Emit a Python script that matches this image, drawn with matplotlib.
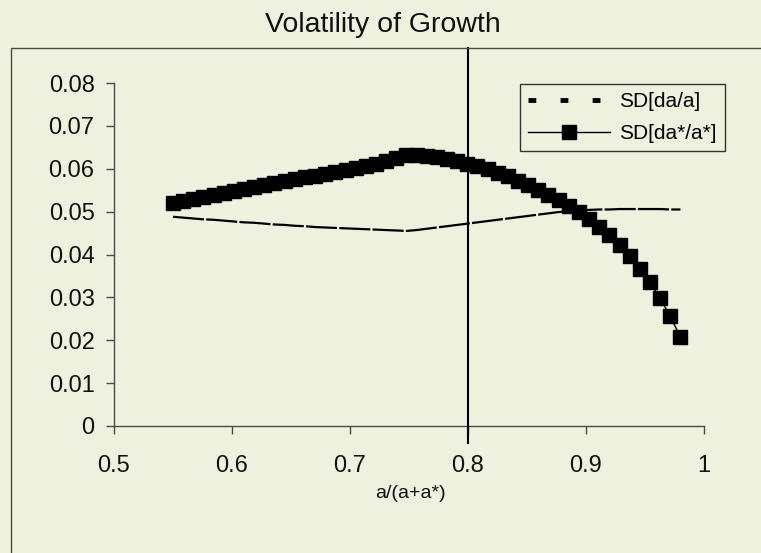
import matplotlib
matplotlib.use("Agg")
import matplotlib.pyplot as plt
from matplotlib.lines import Line2D
from matplotlib.patches import Rectangle
import matplotlib.transforms as mtransforms

plt.rcParams['font.family'] = ['Liberation Sans Narrow', 'Liberation Sans', 'DejaVu Sans']

# ---- data ----
x_share = [0.5500, 0.5586, 0.5672, 0.5758, 0.5844, 0.5930, 0.6016, 0.6102, 0.6188, 0.6274,
           0.6360, 0.6446, 0.6532, 0.6618, 0.6704, 0.6790, 0.6876, 0.6962, 0.7048, 0.7134,
           0.7220, 0.7306, 0.7392, 0.7478, 0.7564, 0.7650, 0.7736, 0.7822, 0.7908, 0.7994,
           0.8080, 0.8166, 0.8252, 0.8338, 0.8424, 0.8510, 0.8596, 0.8682, 0.8768, 0.8854,
           0.8940, 0.9026, 0.9112, 0.9198, 0.9284, 0.9370, 0.9456, 0.9542, 0.9628, 0.9714,
           0.9800]

sd_da_a = [0.0488, 0.0486, 0.0484, 0.0482, 0.0481, 0.0479, 0.0477, 0.0475, 0.0474, 0.0472,
           0.0470, 0.0469, 0.0467, 0.0466, 0.0464, 0.0463, 0.0462, 0.0461, 0.0460, 0.0459,
           0.0458, 0.0457, 0.0456, 0.0455, 0.0457, 0.0460, 0.0463, 0.0466, 0.0469, 0.0472,
           0.0475, 0.0478, 0.0481, 0.0484, 0.0487, 0.0490, 0.0493, 0.0496, 0.0499, 0.0501,
           0.0503, 0.0504, 0.0505, 0.0505, 0.0506, 0.0506, 0.0506, 0.0506, 0.0506, 0.0505,
           0.0505]

sd_dastar = [0.0520, 0.0525, 0.0529, 0.0534, 0.0539, 0.0543, 0.0548, 0.0553, 0.0557, 0.0562,
             0.0567, 0.0572, 0.0576, 0.0580, 0.0584, 0.0588, 0.0592, 0.0596, 0.0601, 0.0606,
             0.0612, 0.0618, 0.0625, 0.0632, 0.0632, 0.0630, 0.0627, 0.0623, 0.0618, 0.0612,
             0.0606, 0.0599, 0.0591, 0.0582, 0.0572, 0.0562, 0.0551, 0.0539, 0.0526, 0.0513,
             0.0499, 0.0483, 0.0464, 0.0445, 0.0422, 0.0396, 0.0366, 0.0336, 0.0298, 0.0256,
             0.0207]

x_ticks = [0.5, 0.6, 0.7, 0.8, 0.9, 1.0]
x_tick_labels = ["0.5", "0.6", "0.7", "0.8", "0.9", "1"]
y_ticks = [0, 0.01, 0.02, 0.03, 0.04, 0.05, 0.06, 0.07, 0.08]
y_tick_labels = ["0", "0.01", "0.02", "0.03", "0.04", "0.05", "0.06", "0.07", "0.08"]
ref_x = 0.8

title = "Volatility of Growth"
x_label = "a/(a+a*)"
series_names = ["SD[da/a]", "SD[da*/a*]"]

# ---- figure ----
W, H = 761, 553
bg = "#eff1df"
fig = plt.figure(figsize=(W / 100, H / 100), dpi=100, facecolor=bg)
ax = fig.add_axes([114 / W, 1 - 426 / H, (704 - 114) / W, (426 - 83) / H])
ax.set_facecolor(bg)

# outer frame (chart border)
fig.add_artist(Rectangle((11 / W, -0.1), 1.2, 1 - 48 / H + 0.1, transform=fig.transFigure,
                         fill=False, edgecolor="#4a4a4a", linewidth=1.0))

ax.plot(x_share, sd_da_a, color="black", linewidth=1.6, linestyle=(0, (14, 1.0)),
        solid_capstyle="butt", dash_capstyle="butt", zorder=3)
ax.plot(x_share, sd_dastar, color="black", linewidth=1.0, marker="s", markersize=9.6,
        markerfacecolor="black", markeredgecolor="black", zorder=4)

ax.set_xlim(0.5, 1.0)
ax.set_ylim(0, 0.08)
ax.set_xticks(x_ticks)
ax.set_xticklabels(x_tick_labels)
ax.set_yticks(y_ticks)
ax.set_yticklabels(y_tick_labels)

for s in ["top", "right"]:
    ax.spines[s].set_visible(False)
for s in ["left", "bottom"]:
    ax.spines[s].set_color("#4a4a4a")
    ax.spines[s].set_linewidth(1.0)
ax.tick_params(axis="both", direction="out", length=6, width=1.0, color="#4a4a4a",
               labelsize=17, labelcolor="#111111")
ax.tick_params(axis="x", pad=15)
ax.tick_params(axis="y", pad=8)

# vertical reference line at x = 0.8
trans = mtransforms.blended_transform_factory(ax.transData, ax.transAxes)
ax.plot([ref_x, ref_x], [-0.05, (426 - 48) / (426 - 83)], transform=trans, color="black",
        linewidth=1.5, clip_on=False, zorder=5)

fig.text(383 / W, 1 - 25 / H, title, ha="center", va="center", fontsize=20.5, color="#111111")
fig.text(410 / W, 1 - 493 / H, x_label, ha="center", va="center", fontsize=14, color="#111111")

# legend
h1 = Line2D([], [], color="black", linewidth=3.5, linestyle=(0, (1.6, 5.0)))
h2 = Line2D([], [], color="black", linewidth=1.0, marker="s", markersize=9.6)
leg = fig.legend([h1, h2], series_names, loc="upper left",
                 bbox_to_anchor=(520 / W, 1 - 84 / H), bbox_transform=fig.transFigure,
                 borderaxespad=0, fontsize=15, frameon=True, fancybox=False,
                 edgecolor="#333333", facecolor=bg, framealpha=1, handlelength=3.9,
                 handletextpad=0.45, labelspacing=0.6, borderpad=0.4)
leg.get_frame().set_linewidth(1.0)

fig.savefig("out.png", dpi=100, facecolor=bg)
